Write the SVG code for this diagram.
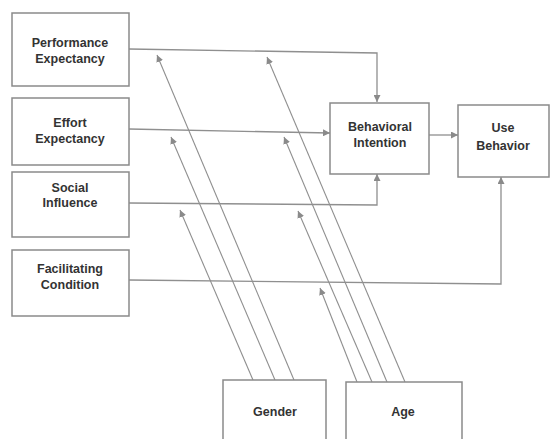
<svg xmlns="http://www.w3.org/2000/svg" width="551" height="439" viewBox="0 0 551 439">
<defs>
<marker id="arr" markerUnits="userSpaceOnUse" markerWidth="8" markerHeight="7" refX="7" refY="3.5" orient="auto">
<path d="M0,0 L7,3.5 L0,7 z" fill="#8a8a8a"/>
</marker>
<style>
.box{fill:#fff;stroke:#8a8a8a;stroke-width:1.5}
.lbl{font-family:"Liberation Sans",Arial,sans-serif;font-weight:bold;font-size:12.5px;fill:#333;text-anchor:middle}
.c{fill:none;stroke:#8f8f8f;stroke-width:1.3}
.m{fill:none;stroke:#8f8f8f;stroke-width:1.1;marker-end:url(#arr)}
</style>
</defs>
<rect width="551" height="439" fill="#fff"/>
<g id="connectors">
<path class="c" d="M129,49 L377,53 L377,102" marker-end="url(#arr)"/>
<path class="c" d="M129,129 L330,133" marker-end="url(#arr)"/>
<path class="c" d="M129,203 L377,205 L377,174" marker-end="url(#arr)"/>
<path class="c" d="M129,280 L501,284 L501,177" marker-end="url(#arr)"/>
<path class="c" d="M429,135 L458,135" marker-end="url(#arr)"/>
<path class="m" d="M253,380 L180,210"/>
<path class="m" d="M275,380 L171,137"/>
<path class="m" d="M294,380 L157,55"/>
<path class="m" d="M357,382 L320,288"/>
<path class="m" d="M372,382 L298,211"/>
<path class="m" d="M387,382 L284,137"/>
<path class="m" d="M405,382 L267,57"/>
</g>
<g id="performance-expectancy">
<rect class="box" x="12" y="13" width="117" height="73"/>
<text class="lbl" x="70" y="47">Performance</text>
<text class="lbl" x="70" y="63">Expectancy</text>
</g>
<g id="effort-expectancy">
<rect class="box" x="12" y="98" width="117" height="67"/>
<text class="lbl" x="70" y="127">Effort</text>
<text class="lbl" x="70" y="143">Expectancy</text>
</g>
<g id="social-influence">
<rect class="box" x="12" y="172" width="117" height="65"/>
<text class="lbl" x="70" y="192">Social</text>
<text class="lbl" x="70" y="207">Influence</text>
</g>
<g id="facilitating-condition">
<rect class="box" x="12" y="250" width="117" height="66"/>
<text class="lbl" x="70" y="273">Facilitating</text>
<text class="lbl" x="70" y="289">Condition</text>
</g>
<g id="behavioral-intention">
<rect class="box" x="330" y="103" width="99" height="71"/>
<text class="lbl" x="380" y="131">Behavioral</text>
<text class="lbl" x="380" y="147">Intention</text>
</g>
<g id="use-behavior">
<rect class="box" x="458" y="105" width="91" height="72"/>
<text class="lbl" x="503" y="132">Use</text>
<text class="lbl" x="503" y="150">Behavior</text>
</g>
<g id="gender">
<rect class="box" x="223" y="380" width="103" height="70"/>
<text class="lbl" x="275" y="416">Gender</text>
</g>
<g id="age">
<rect class="box" x="346" y="382" width="116" height="68"/>
<text class="lbl" x="403" y="416">Age</text>
</g>
</svg>
